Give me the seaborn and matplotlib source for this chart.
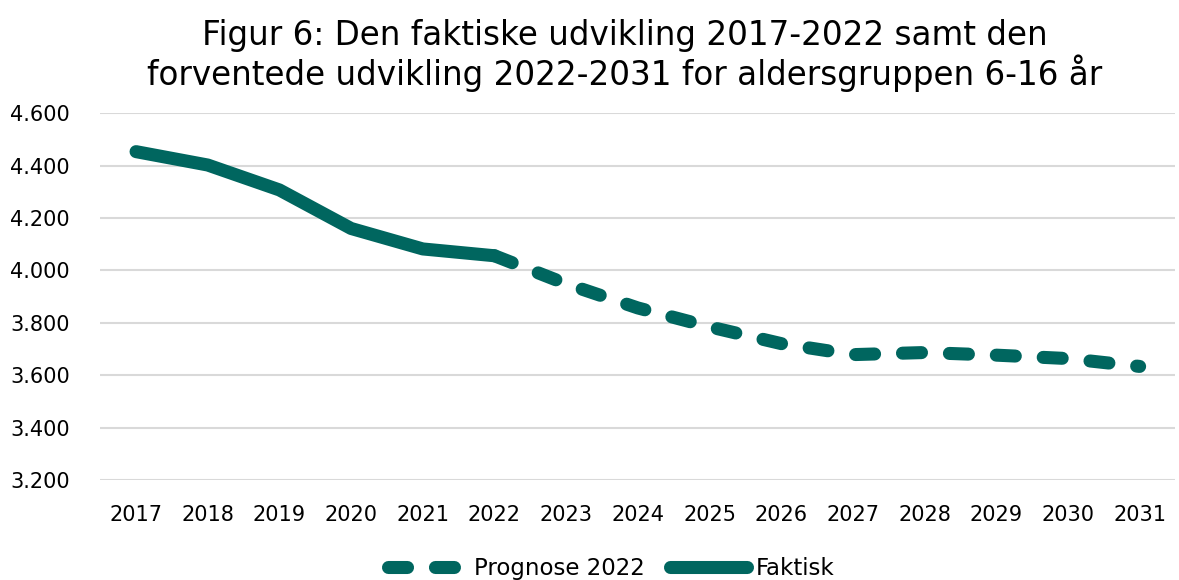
import pandas as pd
import numpy as np
import matplotlib
matplotlib.use("Agg")
import matplotlib.pyplot as plt
import seaborn as sns

# Data
aar_faktisk = [2017, 2018, 2019, 2020, 2021, 2022]
faktisk = [4453, 4402, 4307, 4160, 4082, 4056]

aar_prognose = [2022, 2023, 2024, 2025, 2026, 2027, 2028, 2029, 2030, 2031]
prognose = [4056, 3949, 3857, 3785, 3721, 3679, 3687, 3677, 3664, 3634]

y_ticks = [3200, 3400, 3600, 3800, 4000, 4200, 4400, 4600]
farve = "#00665F"

df_faktisk = pd.DataFrame({"Aar": aar_faktisk, "Antal": faktisk})
df_prognose = pd.DataFrame({"Aar": aar_prognose, "Antal": prognose})

sns.set_style("white")
plt.rcParams["font.family"] = ["DejaVu Sans"]
plt.rcParams["lines.scale_dashes"] = False
plt.rcParams["text.color"] = "black"
plt.rcParams["xtick.color"] = "black"
plt.rcParams["ytick.color"] = "black"

fig = plt.figure(figsize=(11.79, 5.8), dpi=100)
ax = fig.add_axes([0.085, 0.172, 0.912, 0.633])

sns.lineplot(x="Aar", y="Antal", data=df_prognose, ax=ax, color=farve,
             linewidth=9.4, label="Prognose 2022")
sns.lineplot(x="Aar", y="Antal", data=df_faktisk, ax=ax, color=farve,
             linewidth=9.4, label="Faktisk")

l_prog, l_fakt = ax.lines[0], ax.lines[1]
l_prog.set_dashes((13.7, 20.1))
l_prog.set_dash_capstyle("round")
l_fakt.set_solid_capstyle("round")
l_fakt.set_solid_joinstyle("round")

ax.set_xlim(2016.5, 2031.5)
ax.set_ylim(3200, 4600)
ax.set_xticks(range(2017, 2032))
ax.set_yticks(y_ticks)
ax.set_yticklabels([f"{v:,}".replace(",", ".") for v in y_ticks])
ax.tick_params(axis="both", labelsize=15, length=0)
ax.tick_params(axis="x", pad=18)
ax.tick_params(axis="y", pad=22)
ax.grid(axis="y", color="#D9D9D9", linewidth=1.5)
ax.set_axisbelow(True)
for s in ax.spines.values():
    s.set_visible(False)
ax.set_xlabel("")
ax.set_ylabel("")

fig.suptitle("Figur 6: Den faktiske udvikling 2017-2022 samt den\n"
             "forventede udvikling 2022-2031 for aldersgruppen 6-16 år",
             x=0.53, y=0.968, fontsize=23.5, linespacing=1.1)

leg = ax.legend(loc="center", bbox_to_anchor=(0.475, -0.24), ncol=2,
                frameon=False, fontsize=16.5, handlelength=3.4,
                handletextpad=0.35, columnspacing=1.1)
for h in leg.get_lines():
    h.set_linewidth(9.4)

fig.savefig("out.png", dpi=100)
